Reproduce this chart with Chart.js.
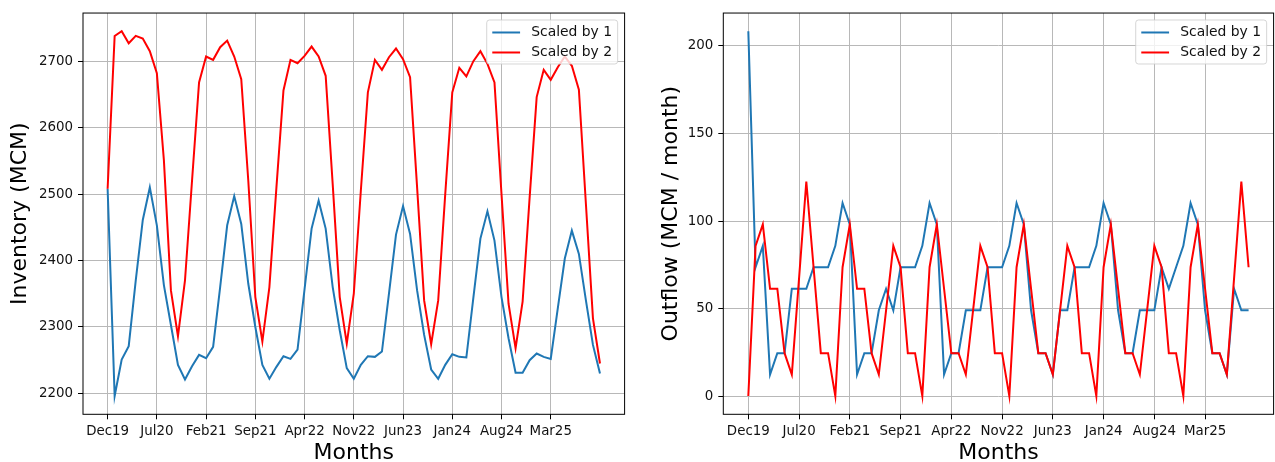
<!DOCTYPE html>
<html>
<head>
<meta charset="utf-8">
<script src="https://cdn.jsdelivr.net/npm/chart.js@4.4.1/dist/chart.umd.min.js"></script>
<style>
    html, body { margin: 0; padding: 0; background: #fff; }
    .box { position: absolute; top: 0; height: 462px; }
    #left { left: 0; width: 640px; }
    #right { left: 640px; width: 635px; }
</style>
</head>
<body>
<div id="left" class="box"><canvas id="inventoryChart"></canvas></div>
<div id="right" class="box"><canvas id="outflowChart"></canvas></div>
<script>
// ticks on the month axis, one label every 7 months starting at index 0
var tickLabels = ["Dec19", "Jul20", "Feb21", "Sep21", "Apr22", "Nov22", "Jun23", "Jan24", "Aug24", "Mar25"];
var tickStep = 7;

var inventoryTicks = [2200, 2300, 2400, 2500, 2600, 2700];
var outflowTicks = [0, 50, 100, 150, 200];

// Inventory (MCM), monthly Dec19 .. Oct25
var inventoryScaled1 = [2508, 2196, 2251, 2271, 2370, 2461, 2510, 2453, 2363, 2303, 2243, 2221,
    2241, 2258, 2253, 2270, 2360, 2453, 2497, 2455, 2365, 2300, 2243, 2222,
    2240, 2256, 2252, 2266, 2357, 2448, 2490, 2448, 2360, 2295, 2238, 2222,
    2243, 2256, 2255, 2263, 2350, 2439, 2482, 2440, 2355, 2288, 2236, 2222,
    2243, 2259, 2255, 2254, 2344, 2433, 2474, 2430, 2345, 2283, 2231, 2231,
    2250, 2260, 2255, 2252, 2328, 2403, 2445, 2410, 2340, 2273, 2230];
var inventoryScaled2 = [2508, 2738, 2745, 2727, 2738, 2734, 2715, 2682, 2551, 2355, 2286, 2370,
    2520, 2668, 2707, 2702, 2721, 2731, 2707, 2673, 2520, 2345, 2278, 2360,
    2510, 2656, 2702, 2697, 2708, 2722, 2707, 2678, 2515, 2345, 2275, 2350,
    2505, 2653, 2702, 2687, 2706, 2719, 2703, 2676, 2510, 2340, 2274, 2340,
    2500, 2653, 2690, 2677, 2700, 2715, 2696, 2668, 2500, 2335, 2268, 2338,
    2495, 2646, 2687, 2672, 2691, 2707, 2693, 2657, 2485, 2313, 2245];

// Outflow (MCM / month), monthly Dec19 .. Sep25
var outflowScaled1 = [208.4, 73.6, 85.8, 12.3, 24.5, 24.5, 61.3, 61.3, 61.3, 73.6, 73.6, 73.6,
    85.8, 110.3, 98.1, 12.3, 24.5, 24.5, 49.0, 61.3, 49.0, 73.6, 73.6, 73.6,
    85.8, 110.3, 98.1, 12.3, 24.5, 24.5, 49.0, 49.0, 49.0, 73.6, 73.6, 73.6,
    85.8, 110.3, 98.1, 49.0, 24.5, 24.5, 12.3, 49.0, 49.0, 73.6, 73.6, 73.6,
    85.8, 110.3, 98.1, 49.0, 24.5, 24.5, 49.0, 49.0, 49.0, 73.6, 61.3, 73.6,
    85.8, 110.3, 98.1, 49.0, 24.5, 24.5, 12.3, 61.3, 49.0, 49.0];
var outflowScaled2 = [0, 85.8, 98.1, 61.3, 61.3, 24.5, 12.3, 67.4, 122.6, 73.6, 24.5, 24.5,
    0, 73.6, 98.1, 61.3, 61.3, 24.5, 12.3, 49.0, 85.8, 73.6, 24.5, 24.5,
    0, 73.6, 98.1, 61.3, 24.5, 24.5, 12.3, 49.0, 85.8, 73.6, 24.5, 24.5,
    0, 73.6, 98.1, 61.3, 24.5, 24.5, 12.3, 49.0, 85.8, 73.6, 24.5, 24.5,
    0, 73.6, 98.1, 61.3, 24.5, 24.5, 12.3, 49.0, 85.8, 73.6, 24.5, 24.5,
    0, 73.6, 98.1, 61.3, 24.5, 24.5, 12.3, 67.4, 122.6, 73.6];

var FONT = '"DejaVu Sans", "Liberation Sans", sans-serif';
var tickFont = { family: FONT, size: 13.4 };
var titleFont = { family: FONT, size: 22 };

var toPoints = function (arr) {
    return arr.map(function (v, i) { return { x: i, y: v }; });
};

// spines on all four sides, like matplotlib
var frameBox = {
    id: 'frameBox',
    afterDatasetsDraw: function (chart) {
        var a = chart.chartArea, ctx = chart.ctx;
        ctx.save();
        ctx.strokeStyle = '#000';
        ctx.lineWidth = 1;
        ctx.strokeRect(a.left, a.top, a.right - a.left, a.bottom - a.top);
        ctx.restore();
    }
};

// legend in the upper right corner of the plot area
var cornerLegend = {
    id: 'cornerLegend',
    afterDraw: function (chart) {
        var ctx = chart.ctx, a = chart.chartArea;
        var f = 13.9;
        var sets = chart.data.datasets;
        ctx.save();
        ctx.font = f + 'px ' + FONT;
        var textW = 0;
        sets.forEach(function (ds) { textW = Math.max(textW, ctx.measureText(ds.label).width); });
        var w = 0.8 * f + 2 * f + 0.8 * f + textW;
        var h = 44;
        var x0 = a.right - 0.5 * f - w;
        var y0 = a.top + 0.5 * f;
        ctx.beginPath();
        ctx.roundRect(x0, y0, w, h, 2.8);
        ctx.fillStyle = 'rgba(255,255,255,0.8)';
        ctx.fill();
        ctx.strokeStyle = 'rgba(204,204,204,0.8)';
        ctx.lineWidth = 1;
        ctx.stroke();
        sets.forEach(function (ds, k) {
            var cy = y0 + 12.5 + k * 20;
            ctx.beginPath();
            ctx.moveTo(x0 + 0.4 * f, cy);
            ctx.lineTo(x0 + 2.4 * f, cy);
            ctx.strokeStyle = ds.borderColor;
            ctx.lineWidth = 2;
            ctx.stroke();
            ctx.fillStyle = '#111';
            ctx.textBaseline = 'middle';
            ctx.fillText(ds.label, x0 + 3.2 * f, cy);
        });
        ctx.restore();
    }
};

var makeChart = function (canvasId, s1, s2, yTitle, yTicks, opt) {
    var n = s1.length;
    var xPad = (n - 1) * 0.05;
    var lo = Math.min(Math.min.apply(null, s1), Math.min.apply(null, s2));
    var hi = Math.max(Math.max.apply(null, s1), Math.max.apply(null, s2));
    var yPad = (hi - lo) * 0.05;

    var data = {
        datasets: [
            {
                label: "Scaled by 1",
                data: toPoints(s1),
                borderColor: "#1f77b4",
                borderWidth: 2,
                pointRadius: 0,
                tension: 0,
                order: 1
            },
            {
                label: "Scaled by 2",
                data: toPoints(s2),
                borderColor: "#ff0000",
                borderWidth: 2,
                pointRadius: 0,
                tension: 0,
                order: 0
            }
        ]
    };

    var gridStyle = { color: '#b8b8b8', lineWidth: 1, tickColor: '#000', tickLength: 5, tickWidth: 1 };

    var options = {
        responsive: true,
        maintainAspectRatio: false,
        animation: false,
        layout: { padding: { left: 0, top: 12.3, right: opt.padRight, bottom: 0 } },
        plugins: { legend: { display: false }, tooltip: { enabled: false } },
        scales: {
            x: {
                type: 'linear',
                min: -xPad,
                max: n - 1 + xPad,
                afterBuildTicks: function (axis) {
                    axis.ticks = tickLabels.map(function (l, k) { return { value: k * tickStep }; });
                },
                afterFit: function (axis) { axis.height = 47.7; },
                ticks: {
                    autoSkip: false,
                    maxRotation: 0,
                    color: '#111',
                    padding: 4,
                    font: tickFont,
                    callback: function (v, i) { return tickLabels[i]; }
                },
                grid: gridStyle,
                border: { display: false },
                title: { display: true, text: 'Months', color: '#000', font: titleFont, padding: { top: 0, bottom: -4 } }
            },
            y: {
                type: 'linear',
                min: lo - yPad,
                max: hi + yPad,
                afterBuildTicks: function (axis) {
                    axis.ticks = yTicks.map(function (v) { return { value: v }; });
                },
                afterFit: function (axis) { axis.width = opt.yWidth; },
                ticks: {
                    color: '#111',
                    padding: 5,
                    font: tickFont,
                    callback: function (v) { return String(v); }
                },
                grid: gridStyle,
                border: { display: false },
                title: { display: true, text: yTitle, color: '#000', font: titleFont, padding: { top: opt.titlePad, bottom: 0 } }
            }
        }
    };

    var ctx = document.getElementById(canvasId).getContext("2d");
    return new Chart(ctx, { type: 'line', data: data, options: options, plugins: [frameBox, cornerLegend] });
};

makeChart("inventoryChart", inventoryScaled1, inventoryScaled2, "Inventory (MCM)", inventoryTicks,
    { padRight: 15.4, yWidth: 83, titlePad: 7.5 });
makeChart("outflowChart", outflowScaled1, outflowScaled2, "Outflow (MCM / month)", outflowTicks,
    { padRight: 1.4, yWidth: 83.3, titlePad: 18.5 });
</script>
</body>
</html>
